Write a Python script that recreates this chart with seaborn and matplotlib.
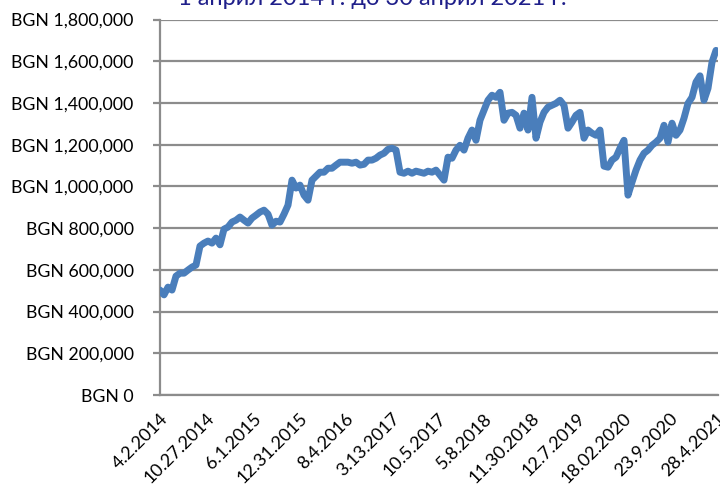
import matplotlib
matplotlib.use("Agg")
import matplotlib.pyplot as plt
import seaborn as sns
import numpy as np
import pandas as pd
from matplotlib.ticker import FuncFormatter, MultipleLocator

# Portfolio value in thousand BGN, sampled evenly along the period
values_k = [
    503, 480, 517, 503, 570, 584, 584, 599, 613, 623,
    714, 728, 738, 728, 752, 720, 795, 805, 829, 838,
    853, 838, 824, 848, 862, 877, 886, 867, 814, 833,
    829, 867, 910, 1030, 992, 1006, 958, 934, 1030, 1049,
    1068, 1068, 1087, 1087, 1102, 1116, 1116, 1116, 1111, 1116,
    1102, 1106, 1126, 1126, 1135, 1150, 1159, 1178, 1183, 1174,
    1068, 1063, 1073, 1063, 1073, 1068, 1063, 1073, 1068, 1078,
    1054, 1030, 1140, 1135, 1174, 1197, 1174, 1231, 1270, 1221,
    1317, 1365, 1413, 1437, 1427, 1451, 1317, 1351, 1355, 1341,
    1279, 1351, 1270, 1427, 1231, 1308, 1355, 1380, 1389, 1398,
    1413, 1389, 1279, 1308, 1341, 1355, 1231, 1270, 1255, 1245,
    1270, 1097, 1092, 1126, 1140, 1183, 1221, 958, 1020, 1078,
    1126, 1159, 1174, 1197, 1212, 1231, 1293, 1212, 1303, 1245,
    1270, 1327, 1398, 1427, 1500, 1530, 1413, 1470, 1595, 1652,
]

date_labels = [
    "4.2.2014", "10.27.2014", "6.1.2015", "12.31.2015", "8.4.2016",
    "3.13.2017", "10.5.2017", "5.8.2018", "11.30.2018", "12.7.2019",
    "18.02.2020", "23.9.2020", "28.4.2021",
]

title_text = "1 април 2014 г. до 30 април 2021 г."

df = pd.DataFrame({"idx": np.arange(len(values_k)),
                   "value": np.array(values_k) * 1000.0})

sns.set_theme(style="white")
plt.rcParams["font.family"] = ["Lato", "DejaVu Sans"]

fig = plt.figure(figsize=(7.2, 4.84), dpi=100)
ax = fig.add_axes([160 / 720, 1 - 395 / 484, 558 / 720, (395 - 19.5) / 484])

grid_color = "#8c8c8c"
sns.lineplot(data=df, x="idx", y="value", ax=ax, color="#4a7ebb",
             linewidth=5.0, solid_capstyle="round", solid_joinstyle="round",
             zorder=3)

n = len(values_k)
ax.set_xlim(0, n - 1 + 0.5)
ax.set_ylim(0, 1800000)
ax.yaxis.set_major_locator(MultipleLocator(200000))
ax.yaxis.set_major_formatter(FuncFormatter(lambda v, p: f"BGN {int(v):,}"))
ax.grid(axis="y", color=grid_color, linewidth=1.6, zorder=1)
ax.grid(axis="x", visible=False)

tick_pos = np.linspace(0, n - 1, len(date_labels))
ax.set_xticks(tick_pos)
ax.set_xticklabels(date_labels, rotation=45, ha="right",
                   rotation_mode="anchor", fontsize=13, color="black")
ax.tick_params(axis="x", length=0, pad=11)
ax.tick_params(axis="y", length=5, width=1.6, color=grid_color,
               labelsize=12.8, labelcolor="black", pad=14, left=True)

for s in ["top", "right"]:
    ax.spines[s].set_visible(False)
for s in ["left", "bottom"]:
    ax.spines[s].set_color(grid_color)
    ax.spines[s].set_linewidth(1.6)

ax.set_xlabel("")
ax.set_ylabel("")

fig.text(372 / 720, 1 - 5 / 484, title_text, ha="center", va="baseline",
         fontsize=17, color="#1f1f8a")

fig.savefig("out.png", dpi=100)
